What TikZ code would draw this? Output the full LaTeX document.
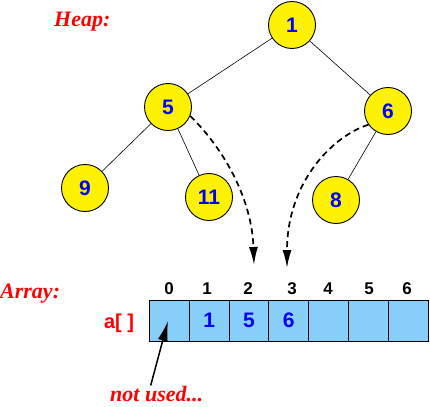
\documentclass[tikz,border=0pt]{standalone}
\usepackage{fontspec}
\setmainfont{Liberation Serif}
\setsansfont{Liberation Sans}
\usetikzlibrary{arrows.meta}
\definecolor{cellblue}{RGB}{135,206,250}
\begin{document}
\begin{tikzpicture}[x=1pt,y=-1pt,
  heapnode/.style={circle,draw=black,line width=0.9pt,fill=yellow,minimum size=47pt,
    inner sep=0pt,text=blue,font=\sffamily\bfseries\fontsize{21}{24}\selectfont},
  tree/.style={line width=0.6pt},
  cell/.style={draw=black,line width=1pt,fill=cellblue,minimum width=39.8pt,
    minimum height=41pt,inner sep=0pt,text=blue,font=\sffamily\bfseries\fontsize{21}{24}\selectfont},
  idx/.style={inner sep=0pt,font=\sffamily\bfseries\fontsize{17}{20}\selectfont},
  title/.style={text=red,inner sep=0pt,font=\rmfamily\bfseries\itshape\fontsize{22}{26}\selectfont},
  link/.style={dash pattern=on 6pt off 4pt,line width=1.7pt,-{Latex[length=18pt,width=9pt]}},
  pointer/.style={line width=1.5pt,-{Latex[length=20pt,width=10pt]}},
]
\useasboundingbox (0,0) rectangle (430,406);

% titles
\node[title,anchor=base west] (heap) at (54,27) {Heap:};
\node[title,anchor=base west] (arr) at (0,298) {Array:};
\node[title,anchor=base west] (nu) at (110,401) {not used...};
\node[inner sep=0pt,anchor=base,text=red,font=\sffamily\bfseries\fontsize{20}{24}\selectfont] (aname) at (119,328) {a[\ ]};

% heap tree
\node[heapnode] (n1) at (292,25) {1};
\node[heapnode] (n5) at (168,107) {5};
\node[heapnode] (n6) at (388,111) {6};
\node[heapnode] (n9) at (85,188) {9};
\node[heapnode] (n11) at (209,197) {11};
\node[heapnode] (n8) at (336,200) {8};
\draw[tree] (n1) -- (n5);
\draw[tree] (n1) -- (n6);
\draw[tree] (n5) -- (n9);
\draw[tree] (n5) -- (n11);
\draw[tree] (n6) -- (n8);

% array cells
\node[cell] (c0) at (169.4,320.5) {};
\node[cell] (c1) at (209.2,320.5) {1};
\node[cell] (c2) at (249.0,320.5) {5};
\node[cell] (c3) at (288.8,320.5) {6};
\node[cell] (c4) at (328.6,320.5) {};
\node[cell] (c5) at (368.4,320.5) {};
\node[cell] (c6) at (408.2,320.5) {};

% indices
\node[idx] (i0) at (169,289) {0};
\node[idx] (i1) at (207,289) {1};
\node[idx] (i2) at (248,289) {2};
\node[idx] (i3) at (292,289) {3};
\node[idx] (i4) at (328,289) {4};
\node[idx] (i5) at (369,289) {5};
\node[idx] (i6) at (407,289) {6};

% arrow ends
\coordinate (t2) at (254,265);
\coordinate (t3) at (287,268);
\coordinate (t0) at (168,321);

\draw[link] (n5.-22) .. controls (225,150) and (252,200) .. (t2);
\draw[link] (n6.215) .. controls (335,135) and (287,180) .. (t3);
\draw[pointer] ([xshift=-6pt]nu.north) -- (t0);
\end{tikzpicture}
\end{document}
